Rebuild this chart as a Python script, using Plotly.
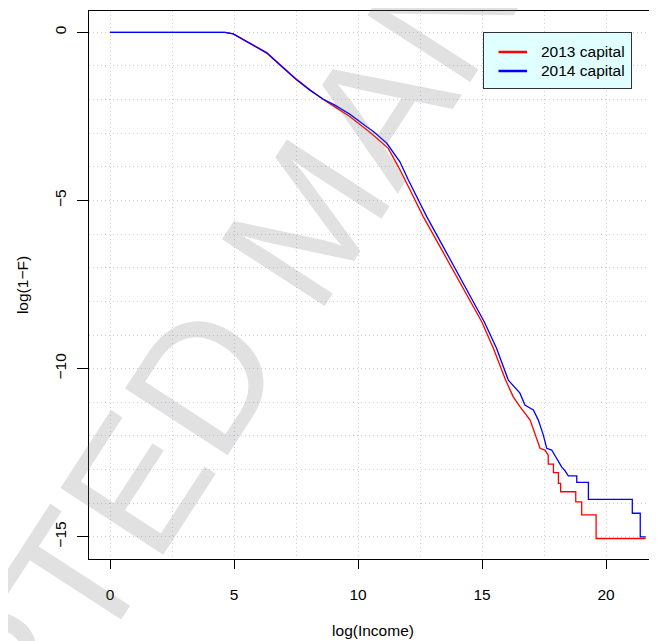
import plotly.graph_objects as go

# 2013 capital (red): log(Income) vs log(1-F)
x_2013 = [0.0, 4.64, 4.97, 5.38, 5.78, 6.32, 6.92, 7.53, 8.06, 8.60, 9.05, 9.68, 10.35, 10.62,
          11.22, 11.63, 12.10, 12.63, 13.31, 13.98, 14.49, 15.0, 15.46, 15.95, 16.26, 16.53,
          16.94, 17.14, 17.34, 17.54, 17.67, 17.67, 17.88, 17.88, 18.08, 18.08, 18.17, 18.17,
          18.78, 18.78, 19.02, 19.02, 19.60, 19.60, 21.60]
y_2013 = [0.0, 0.0, -0.05, -0.22, -0.37, -0.60, -1.00, -1.40, -1.71, -2.0, -2.21, -2.51, -2.90, -3.06,
          -3.45, -4.0, -4.69, -5.48, -6.38, -7.27, -7.91, -8.62, -9.40, -10.34, -10.84, -11.13,
          -11.53, -11.92, -12.37, -12.42, -12.57, -12.84, -12.84, -13.09, -13.09, -13.41, -13.41,
          -13.66, -13.66, -13.96, -13.96, -14.35, -14.35, -15.05, -15.05]

# 2014 capital (blue)
x_2014 = [0.0, 4.64, 4.97, 5.38, 5.78, 6.32, 6.92, 7.53, 8.06, 8.60, 9.05, 9.68, 10.35, 10.62,
          11.16, 11.69, 12.03, 12.23, 12.77, 13.44, 14.11, 14.58, 15.1, 15.59, 16.06, 16.53,
          16.73, 17.07, 17.27, 17.47, 17.61, 17.81, 17.94, 18.08, 18.21, 18.35, 18.48, 18.82,
          18.82, 19.29, 19.29, 21.06, 21.06, 21.38, 21.38, 21.60]
y_2014 = [0.0, 0.0, -0.05, -0.23, -0.38, -0.62, -1.02, -1.42, -1.72, -1.99, -2.16, -2.44, -2.81, -2.95,
          -3.30, -3.85, -4.39, -4.69, -5.48, -6.38, -7.27, -7.91, -8.62, -9.40, -10.34, -10.73,
          -11.08, -11.23, -11.53, -11.97, -12.37, -12.42, -12.57, -12.77, -12.92, -13.04, -13.19,
          -13.19, -13.38, -13.38, -13.89, -13.89, -14.30, -14.30, -15.0, -15.0]

series_names = ["2013 capital", "2014 capital"]
series_colors = ["#ff0000", "#0000ff"]

x_ticks = [0, 5, 10, 15, 20]
y_ticks = [0, -5, -10, -15]

FONT = "Liberation Sans, Arial, Helvetica, sans-serif"
GRID = "#c9d0e2"
FS = 15.5

# page is offset by the 8px body margin; work in window pixels and convert
OFF = 8
W, H = 657 - OFF, 641 - OFF
L, T, B = 89 - OFF, 11 - OFF, H - (559 - OFF)
PW, PH = W - L, H - T - B


def px(sx):
    return (sx - OFF - L) / PW


def py(sy):
    return (H - B - (sy - OFF)) / PH


fig = go.Figure()
for xs, ys, name, col in [(x_2013, y_2013, series_names[0], series_colors[0]),
                          (x_2014, y_2014, series_names[1], series_colors[1])]:
    fig.add_trace(go.Scatter(x=xs, y=ys, mode="lines", name=name,
                             line=dict(color=col, width=1.3), showlegend=False))

annotations = []
# watermark
annotations.append(dict(text="ACCEPTED MANUSCRIPT", xref="paper", yref="paper",
                        x=px(308), y=py(218), showarrow=False, textangle=-57,
                        font=dict(family=FONT, size=178, color="rgba(120,120,120,0.22)")))
# legend box
lx0, lx1, ly0, ly1 = 483, 632, 32, 89
annotations.append(dict(text=" ", xref="paper", yref="paper",
                        x=px((lx0 + lx1) / 2), y=py((ly0 + ly1) / 2), showarrow=False,
                        xanchor="center", yanchor="middle",
                        width=lx1 - lx0 - 2, height=ly1 - ly0 - 2, borderpad=0,
                        bgcolor="#E0FFFF", bordercolor="#333333", borderwidth=1))
rows = [52, 71]
for name, col, ry in zip(series_names, series_colors, rows):
    annotations.append(dict(text="", xref="paper", yref="paper", x=px(527), y=py(ry),
                            axref="pixel", ayref="pixel", ax=-30, ay=0, showarrow=True,
                            arrowhead=0, arrowwidth=2.3, arrowcolor=col, standoff=0,
                            startstandoff=0))
    annotations.append(dict(text=name, xref="paper", yref="paper", x=px(539), y=py(ry),
                            xanchor="left", yanchor="middle", showarrow=False,
                            font=dict(family=FONT, size=FS, color="black")))

fig.update_layout(
    width=W, height=H,
    margin=dict(l=L, r=0, t=T, b=B, pad=0),
    paper_bgcolor="white", plot_bgcolor="white",
    font=dict(family=FONT, size=FS, color="black"),
    showlegend=False,
    annotations=annotations,
    xaxis=dict(range=[-0.847, 22.056], tickvals=x_ticks, ticks="outside", ticklen=9,
               tickcolor="black", showline=True, linecolor="black", linewidth=1, mirror=True,
               showgrid=True, gridcolor=GRID, griddash="1px,3px", gridwidth=1, zeroline=False,
               minor=dict(dtick=2.5, tick0=0, showgrid=True, gridcolor=GRID, griddash="1px,3px", ticks=""),
               ticklabelstandoff=12,
               title=dict(text="log(Income)", font=dict(size=FS), standoff=23),
               tickfont=dict(size=FS), automargin=False),
    yaxis=dict(range=[-15.66, 0.633], tickvals=y_ticks, ticks="outside", ticklen=11,
               tickcolor="black", showline=True, linecolor="black", linewidth=1, mirror=False,
               showgrid=True, gridcolor=GRID, griddash="1px,3px", gridwidth=1, zeroline=False,
               minor=dict(dtick=1, tick0=0, showgrid=True, gridcolor=GRID, griddash="1px,3px", ticks=""),
               tickangle=-90, ticklabelstandoff=5,
               title=dict(text="log(1\u2212F)", font=dict(size=FS), standoff=19),
               tickfont=dict(size=FS), automargin=False),
)

fig.write_html("out.html")
